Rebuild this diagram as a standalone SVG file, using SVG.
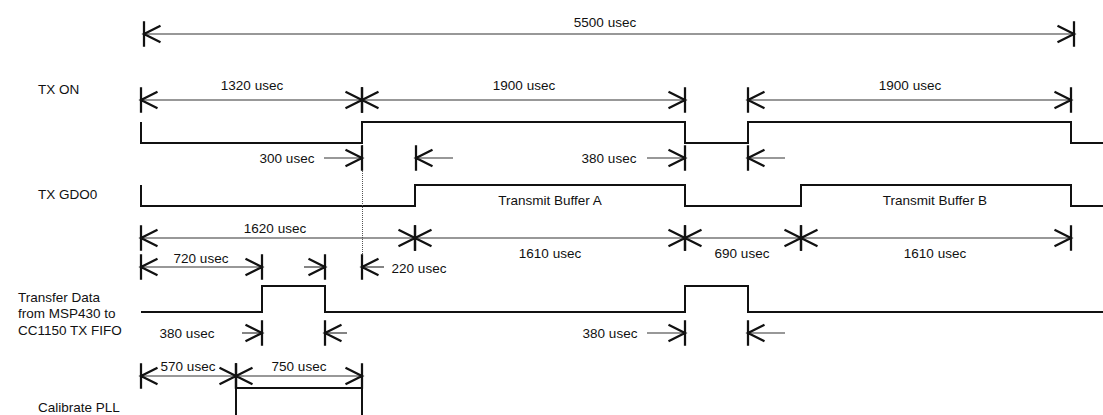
<svg xmlns="http://www.w3.org/2000/svg" width="1103" height="415" viewBox="0 0 1103 415">
<style>
text{font-family:"Liberation Sans",Arial,sans-serif;font-size:13.5px;fill:#111}
.c{text-anchor:middle}
.w{fill:none;stroke:#111;stroke-width:2}
.d{fill:none;stroke:#333;stroke-width:1.2;marker-end:url(#a)}
.b{marker-start:url(#a)}
.dot{stroke:#555;stroke-width:1;stroke-dasharray:1 1}
</style>
<defs>
<marker id="a" markerUnits="userSpaceOnUse" markerWidth="30" markerHeight="30" viewBox="-15 -10 20 20" refX="0" refY="0" orient="auto-start-reverse">
<path d="M0,-8.5V8.5M-11,-5.5L0,0L-11,5.5" fill="none" stroke="#111" stroke-width="1.5"/>
</marker>
</defs>
<g id="labels">
<text x="38" y="94">TX ON</text>
<text x="38" y="199">TX GDO0</text>
<text x="18" y="302">Transfer Data</text>
<text x="18" y="318">from MSP430 to</text>
<text x="18" y="335">CC1150 TX FIFO</text>
<text x="38" y="412">Calibrate PLL</text>
</g>
<g id="waveforms">
<path id="tx-on" class="w" d="M141,122V143H362V122H685V143H748V122H1071V143H1103"/>
<path id="tx-gdo0" class="w" d="M141,185V206H415V185H685V206H801V185H1071V206H1103"/>
<path id="transfer" class="w" d="M141,312H262V286H325V312H685V286H748V312H1103"/>
<path id="calibrate" class="w" d="M236,415V388H362V415"/>
<line class="dot" x1="362.5" y1="145" x2="362.5" y2="274"/>
</g>
<g id="connectors">
<path class="d b" d="M144,34H1074"/>
<path class="d b" d="M141,100H362"/>
<path class="d b" d="M362,100H685"/>
<path class="d b" d="M748,100H1071"/>
<path class="d" d="M324,158H362"/>
<path class="d" d="M453,158H416"/>
<path class="d" d="M647,158H685"/>
<path class="d" d="M785,158H748"/>
<path class="d b" d="M141,238H415"/>
<path class="d b" d="M415,238H685"/>
<path class="d b" d="M685,238H801"/>
<path class="d b" d="M801,238H1071"/>
<path class="d b" d="M141,267H262"/>
<path class="d" d="M304,267H325"/>
<path class="d" d="M384,267H362"/>
<path class="d" d="M242,333H262"/>
<path class="d" d="M347,333H325"/>
<path class="d" d="M647,333H685"/>
<path class="d" d="M785,333H748"/>
<path class="d b" d="M141,376H236"/>
<path class="d b" d="M236,376H362"/>
</g>
<g id="dim-labels">
<text class="c" x="605" y="27">5500 usec</text>
<text class="c" x="252" y="90">1320 usec</text>
<text class="c" x="524" y="90">1900 usec</text>
<text class="c" x="910" y="90">1900 usec</text>
<text class="c" x="287" y="163">300 usec</text>
<text class="c" x="609" y="163">380 usec</text>
<text class="c" x="550" y="205">Transmit Buffer A</text>
<text class="c" x="935" y="205">Transmit Buffer B</text>
<text class="c" x="275" y="233">1620 usec</text>
<text class="c" x="550" y="258">1610 usec</text>
<text class="c" x="742" y="258">690 usec</text>
<text class="c" x="935" y="258">1610 usec</text>
<text class="c" x="201" y="263">720 usec</text>
<text class="c" x="419" y="273">220 usec</text>
<text class="c" x="187" y="338">380 usec</text>
<text class="c" x="610" y="338">380 usec</text>
<text class="c" x="188" y="371">570 usec</text>
<text class="c" x="299" y="371">750 usec</text>
</g>
</svg>
